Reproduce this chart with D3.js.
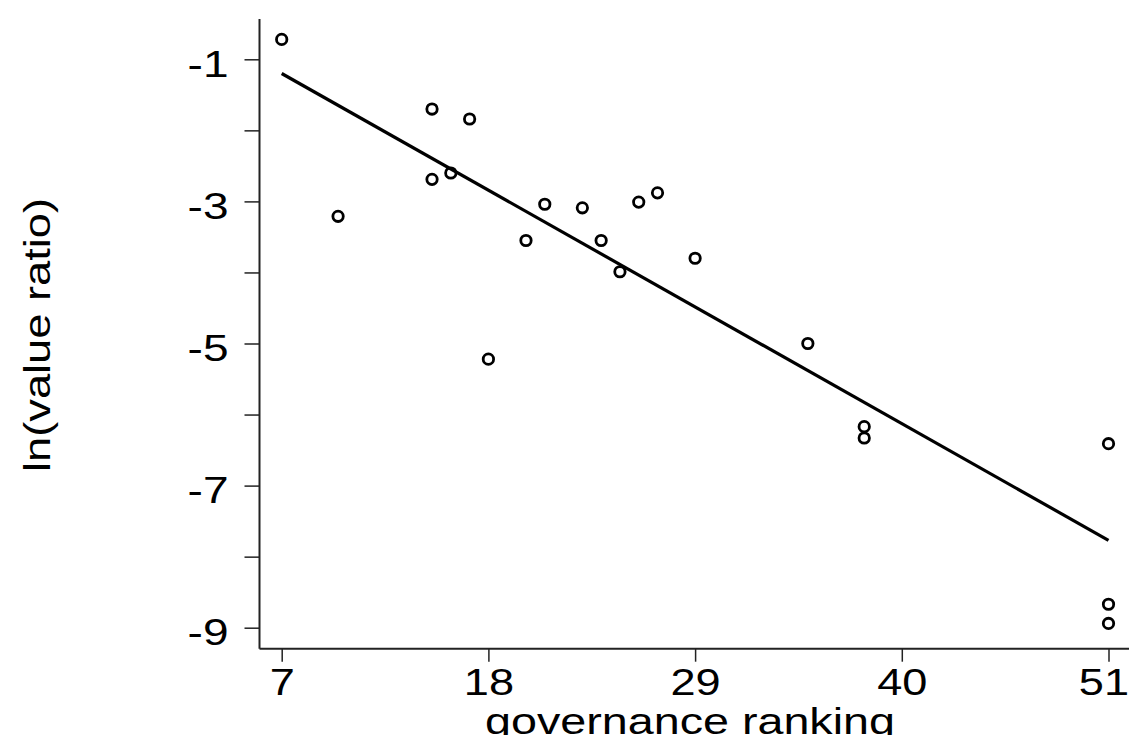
<!DOCTYPE html>
<html>
<head>
<meta charset="utf-8">
<script src="https://cdn.jsdelivr.net/npm/d3@7/dist/d3.min.js"></script>
<style>
  html, body { margin: 0; padding: 0; background: #fff; }
  svg { display: block; }
  text { font-family: "Liberation Sans", Arial, Helvetica, sans-serif; fill: #000; }
</style>
</head>
<body>
<svg id="chart" width="1129" height="735"></svg>
<script>
// ---- data ----
const rankX = [7, 10, 15, 17, 15, 16, 18, 20, 21, 23, 24, 25, 26, 27, 29, 35, 38, 38, 51, 51, 51];
const lnRatioY = [-0.72, -3.21, -1.70, -1.84, -2.69, -2.60, -5.22, -3.55, -3.04, -3.09, -3.55, -3.99, -3.01, -2.88, -3.80, -5.00, -6.17, -6.33, -6.41, -8.67, -8.94];
const fitX = [7, 51];
const fitY = [-1.20, -7.77];
const xTicks = [7, 18, 29, 40, 51];
const yTicks = [-1, -2, -3, -4, -5, -6, -7, -8, -9];
const yLabelTicks = [-1, -3, -5, -7, -9];
const xTitle = "governance ranking";
const yTitle = "ln(value ratio)";

// ---- layout ----
const svg = d3.select("#chart");
const plotLeft = 259.5, plotRight = 1129, plotTop = 19, plotBottom = 648.7;
const stretchY = 1.28, stretchX = 1.22;

const x = d3.scaleLinear().domain([7, 51]).range([281.7, 1108.5]);
const y = d3.scaleLinear().domain([-1, -9]).range([59.3, 627.7]);

// Y axis
const yAxis = d3.axisLeft(y).tickValues(yTicks).tickSize(15).tickPadding(17)
  .tickFormat(d => yLabelTicks.includes(d) ? d3.format("d")(d).replace("−", "-") : "");
const gy = svg.append("g").attr("transform", `translate(${plotLeft},0)`).call(yAxis);
gy.select(".domain").remove();
gy.selectAll(".tick line").attr("stroke", "#222").attr("stroke-width", 1.5);
gy.selectAll(".tick text").attr("font-size", 36).attr("dy", "0.48em")
  .attr("x", -31 / stretchY).attr("transform", `scale(${stretchY},1)`);
svg.append("line").attr("x1", plotLeft).attr("x2", plotLeft).attr("y1", plotTop).attr("y2", plotBottom)
  .attr("stroke", "#222").attr("stroke-width", 2);

// X axis
const xAxis = d3.axisBottom(x).tickValues(xTicks).tickSize(13).tickPadding(7)
  .tickFormat(d3.format("d"));
const gx = svg.append("g").attr("transform", `translate(0,${plotBottom})`).call(xAxis);
gx.select(".domain").remove();
gx.selectAll(".tick line").attr("stroke", "#222").attr("stroke-width", 1.5);
const lastTick = xTicks[xTicks.length - 1];
gx.selectAll(".tick text").attr("font-size", 37).attr("dy", null).attr("y", 46.5)
  .attr("text-anchor", d => d === lastTick ? "end" : "middle")
  .attr("x", d => d === lastTick ? (plotRight - 0.5 - x(d)) / stretchX : 0)
  .attr("transform", `scale(${stretchX},1)`);
svg.append("line").attr("x1", plotLeft).attr("x2", plotRight).attr("y1", plotBottom).attr("y2", plotBottom)
  .attr("stroke", "#222").attr("stroke-width", 2);

// Fit line
const fitData = fitX.map((v, i) => [v, fitY[i]]);
svg.append("path").datum(fitData)
  .attr("d", d3.line().x(d => x(d[0])).y(d => y(d[1])))
  .attr("fill", "none").attr("stroke", "#000").attr("stroke-width", 3.2);

// Points
const pts = rankX.map((v, i) => [v, lnRatioY[i]]);
svg.append("g").selectAll("circle").data(pts).join("circle")
  .attr("cx", d => x(d[0])).attr("cy", d => y(d[1])).attr("r", 5.2)
  .attr("fill", "none").attr("stroke", "#000").attr("stroke-width", 2.8);

// Titles
svg.append("text").attr("x", 690).attr("y", 734).attr("text-anchor", "middle")
  .attr("font-size", 36).attr("textLength", 410).attr("lengthAdjust", "spacingAndGlyphs")
  .text(xTitle);
svg.append("text").attr("transform", "translate(50,335) rotate(-90)").attr("text-anchor", "middle")
  .attr("font-size", 37).attr("textLength", 274).attr("lengthAdjust", "spacingAndGlyphs")
  .text(yTitle);
</script>
</body>
</html>
